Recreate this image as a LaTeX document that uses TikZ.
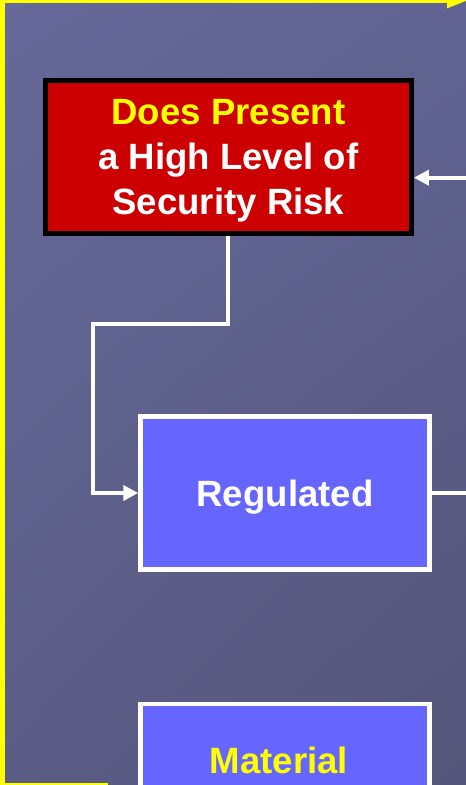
\documentclass[tikz,border=0pt]{standalone}
\usepackage{fontspec}
\setmainfont{Liberation Sans}
\usetikzlibrary{arrows.meta, positioning, calc, shadings}
\definecolor{slidetl}{RGB}{102,105,153}
\definecolor{slidetr}{RGB}{97,99,146}
\definecolor{slidebl}{RGB}{91,93,135}
\definecolor{slidebr}{RGB}{84,85,121}
\definecolor{riskred}{RGB}{204,0,0}
\definecolor{boxblue}{RGB}{102,102,255}
\definecolor{hiyellow}{RGB}{255,255,0}

\begin{document}
\begin{tikzpicture}[x=1pt, y=-1pt,
  every node/.style={font=\bfseries\fontsize{36.6}{45}\selectfont, text=white},
  riskbox/.style={draw=black, fill=riskred, line width=5pt, minimum width=366pt, minimum height=153pt, align=center, text depth=0pt},
  classbox/.style={draw=white, fill=boxblue, line width=4.5pt, minimum width=289pt, minimum height=153pt, text depth=0pt},
  wline/.style={draw=white, line width=4pt},
  yline/.style={draw=hiyellow, line width=5pt}]
  \useasboundingbox (0,0) rectangle (466,785);
  \clip (0,0) rectangle (466,785);
  \shade[upper left=slidetl, upper right=slidetr, lower left=slidebl, lower right=slidebr] (0,0) rectangle (466,785);

  % boxes
  \node[riskbox] (risk) at (228.4,156.7) {\textcolor{hiyellow}{Does Present}\\a High Level of\\Security Risk};
  \node[classbox] (reg) at (285,493) {Regulated};
  \node[classbox] (mat) at (285,780.6) {};
  \node[anchor=base, text=hiyellow] (matlbl) at (279,773) {Material};

  % loose ends
  \coordinate (yin) at (108,785.5);
  \coordinate (yout) at (468,0.5);
  \coordinate (rin) at (466,177.7);
  \coordinate (rout) at (466,493);

  % connectors
  \draw[yline, -{Triangle[length=21pt, width=14pt]}] (yin) -| (2.5,0.5) -- (yout);
  \draw[wline, -{Triangle[length=15pt, width=15pt]}] (rin) -- (rin -| risk.east);
  \draw[wline, -{Triangle[length=15pt, width=15pt]}] (risk.south) -- ++(0,88) -| ($(reg.west)+(-45,0)$) -- (reg.west);
  \draw[wline] (reg.east) -- (rout);
\end{tikzpicture}
\end{document}
